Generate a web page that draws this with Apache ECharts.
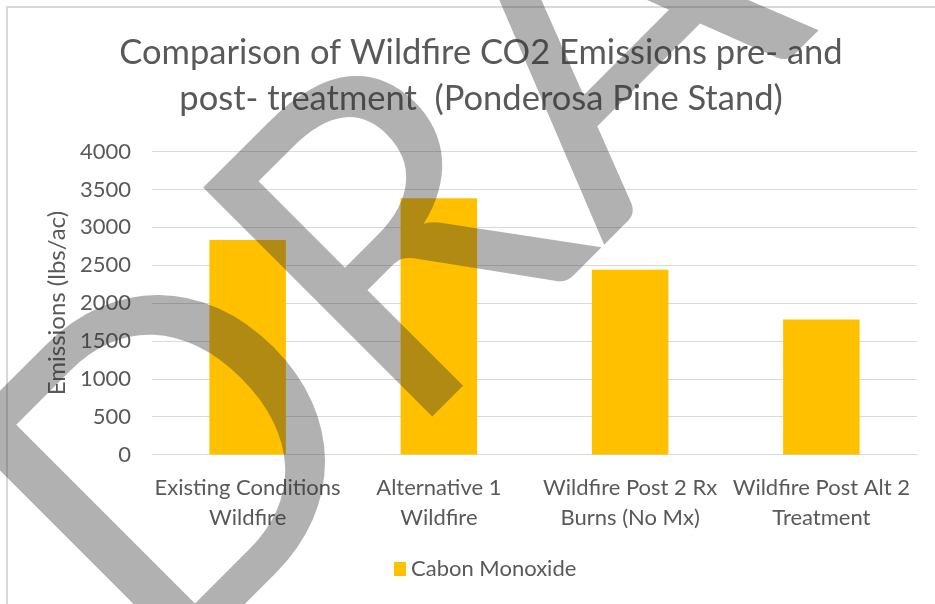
<!DOCTYPE html>
<html>
<head>
<meta charset="utf-8">
<script src="https://cdn.jsdelivr.net/npm/echarts@6/dist/echarts.min.js"></script>
<style>
  html, body { margin: 0; padding: 0; background: #ffffff; overflow: hidden; }
  #chart { width: 935px; height: 604px; }
</style>
</head>
<body>
<div id="chart"></div>
<script>
// Wildfire emission scenarios (x-axis categories, two-line labels)
const categories = [
  'Existing Conditions\nWildfire',
  'Alternative 1\nWildfire',
  'Wildfire Post 2 Rx\nBurns (No Mx)',
  'Wildfire Post Alt 2\nTreatment'
];
// Emissions per scenario, lbs/ac
const seriesName = 'Cabon Monoxide';
const emissions = [2835, 3385, 2440, 1785];
// Value axis range and step
const yMin = 0;
const yMax = 4000;
const yStep = 500;

const titleText = 'Comparison of Wildfire CO2 Emissions pre- and\npost- treatment  (Ponderosa Pine Stand)';
const yAxisTitle = 'Emissions (lbs/ac)';
const watermarkText = 'DRAFT';

const FONT = 'Lato, "Open Sans", sans-serif';
const TEXT_GREY = '#595959';
const GRID_GREY = '#d9d9d9';

const chart = echarts.init(document.getElementById('chart'), null, { renderer: 'canvas' });

chart.setOption({
  animation: false,
  backgroundColor: '#ffffff',
  title: {
    text: titleText,
    left: 476,
    top: 25,
    textAlign: 'center',
    textStyle: {
      fontFamily: FONT,
      fontSize: 34.5,
      fontWeight: 'normal',
      color: TEXT_GREY,
      lineHeight: 46
    }
  },
  legend: {
    data: [seriesName],
    left: 389,
    top: 553,
    itemWidth: 12,
    itemHeight: 14,
    icon: 'rect',
    textStyle: {
      fontFamily: FONT,
      fontSize: 22,
      color: TEXT_GREY
    }
  },
  grid: {
    left: 152,
    right: 18,
    top: 151.7,
    bottom: 149.5
  },
  xAxis: {
    type: 'category',
    data: categories,
    axisLine: { show: true, lineStyle: { color: GRID_GREY, width: 1 } },
    axisTick: { show: false },
    axisLabel: {
      interval: 0,
      margin: 18,
      fontFamily: FONT,
      fontSize: 22,
      lineHeight: 30,
      color: TEXT_GREY
    }
  },
  yAxis: {
    type: 'value',
    min: yMin,
    max: yMax,
    interval: yStep,
    name: yAxisTitle,
    nameLocation: 'middle',
    nameGap: 57,
    nameTextStyle: {
      fontFamily: FONT,
      fontSize: 24,
      color: TEXT_GREY
    },
    axisLine: { show: false },
    axisTick: { show: false },
    splitLine: { lineStyle: { color: GRID_GREY, width: 1 } },
    axisLabel: {
      margin: 21,
      fontFamily: FONT,
      fontSize: 22,
      color: TEXT_GREY,
      formatter: (v) => String(v)
    }
  },
  series: [{
    name: seriesName,
    type: 'bar',
    data: emissions,
    barWidth: '40%',
    itemStyle: { color: '#ffc000' }
  }],
  graphic: [
    {
      // chart-area frame
      type: 'rect',
      z: 0,
      shape: { x: 7, y: 7, width: 1200, height: 1200 },
      style: { fill: 'none', stroke: GRID_GREY, lineWidth: 2 }
    },
    {
      // diagonal DRAFT watermark
      type: 'group',
      x: 182,
      y: 711,
      rotation: Math.PI / 4,
      z: 100,
      children: [{
        type: 'text',
        x: 0,
        y: -177,
        z: 100,
        style: {
          text: watermarkText,
          font: '452px Lato',
          fill: 'rgba(50,50,50,0.38)',
          align: 'left',
          verticalAlign: 'middle'
        }
      }]
    }
  ]
});
</script>
</body>
</html>
